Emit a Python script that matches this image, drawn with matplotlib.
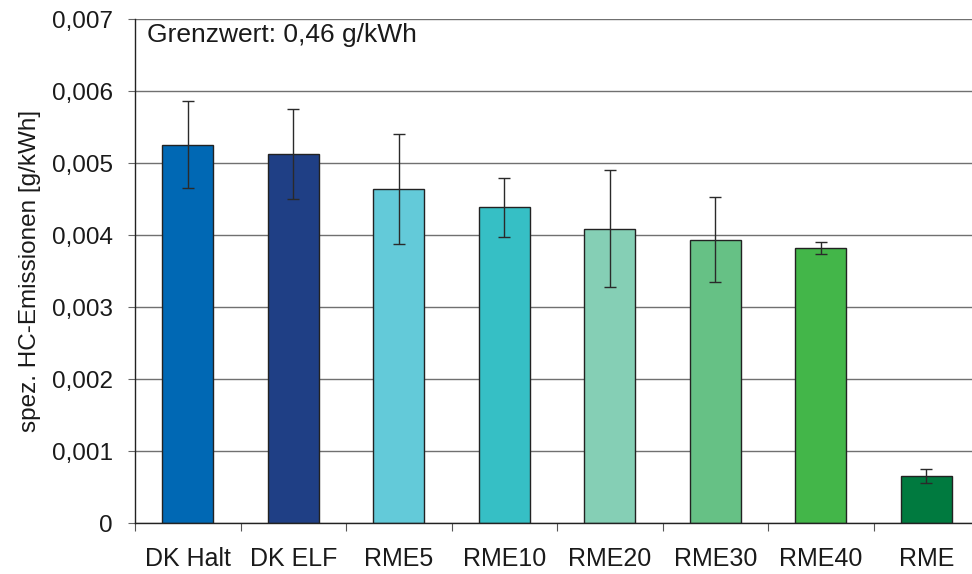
import numpy as np
import matplotlib
matplotlib.use("Agg")
import matplotlib.pyplot as plt
from matplotlib.ticker import FuncFormatter

plt.rcParams['font.family'] = ['Liberation Sans', 'DejaVu Sans']

# Daten
categories = ["DK Halt", "DK ELF", "RME5", "RME10", "RME20", "RME30", "RME40", "RME"]
hc_values = [0.00526, 0.00513, 0.00464, 0.00439, 0.00409, 0.00394, 0.00382, 0.000657]
hc_errors = [0.00060, 0.00062, 0.00076, 0.00041, 0.00081, 0.00059, 0.00008, 0.00010]
bar_colors = ["#0068b4", "#1f3f85", "#63cad9", "#36bfc5",
              "#85cfb5", "#66c185", "#43b649", "#007a3f"]

fig = plt.figure(figsize=(9.72, 5.74), dpi=100)
ax = fig.add_axes([135 / 972, 1 - 523.3 / 574, 844 / 972, 504 / 574])

x = np.arange(len(categories))
ax.bar(x, hc_values, width=0.48, color=bar_colors, edgecolor="#222222",
       linewidth=1.0, zorder=2)
ax.errorbar(x, hc_values, yerr=hc_errors, fmt="none", ecolor="#2a2a2a",
            elinewidth=1.0, capsize=4.2, capthick=1.0, zorder=3)

ax.set_xlim(-0.5, 7.5)
ax.set_ylim(0, 0.007)
ax.set_yticks(np.arange(0, 0.0071, 0.001))
ax.yaxis.set_major_formatter(FuncFormatter(
    lambda v, p: "0" if abs(v) < 1e-9 else f"{v:.3f}".replace(".", ",")))

ax.set_xticks(x)
ax.set_xticklabels(categories, fontsize=18, color="#1a1a1a")
ax.set_xticks(np.arange(-0.5, 8, 1), minor=True)
ax.tick_params(axis="x", which="major", length=0, pad=17)
ax.tick_params(axis="x", which="minor", length=6, width=0.8, color="#555555")
ax.tick_params(axis="y", length=5, width=0.8, color="#666666", labelsize=17.5,
               labelcolor="#1a1a1a", pad=11)

ax.grid(axis="y", color="#707070", linewidth=1.0)
ax.set_axisbelow(True)
for side in ["top", "right"]:
    ax.spines[side].set_visible(False)
ax.spines["left"].set_color("#222222")
ax.spines["bottom"].set_color("#222222")
ax.spines["left"].set_linewidth(1.0)
ax.spines["bottom"].set_linewidth(1.0)

ax.set_ylabel("spez. HC-Emissionen [g/kWh]", fontsize=17.5, color="#1a1a1a",
              labelpad=8)
ax.text(0.014, 0.993, "Grenzwert: 0,46 g/kWh", transform=ax.transAxes,
        fontsize=19, va="top", ha="left", color="#1a1a1a")

fig.savefig("out.png", dpi=100)
